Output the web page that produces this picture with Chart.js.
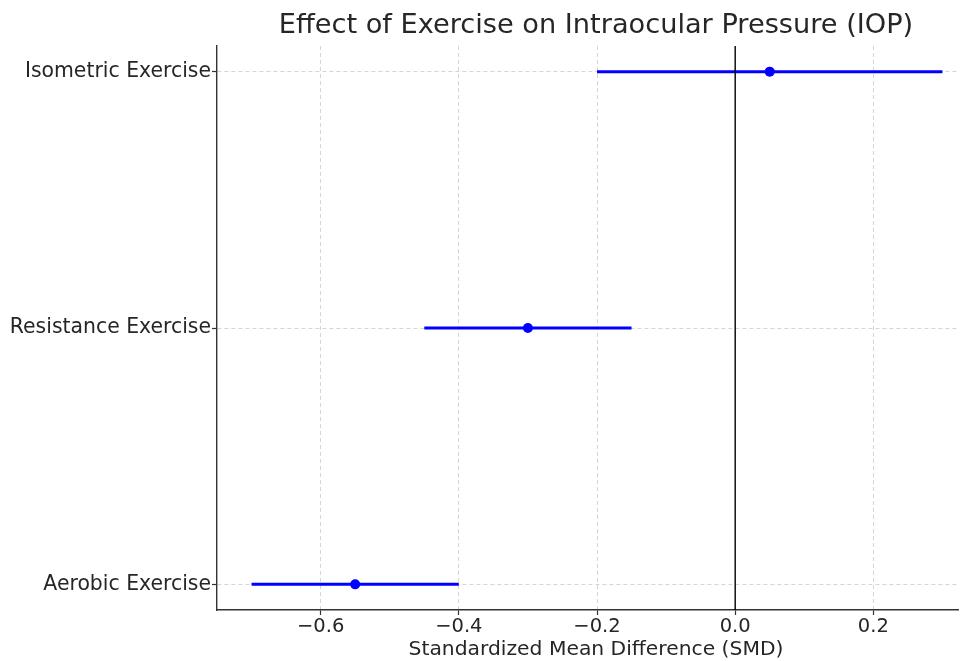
<!DOCTYPE html>
<html>
<head>
<meta charset="utf-8">
<script src="https://cdn.jsdelivr.net/npm/chart.js@4"></script>
<style>
  html, body { margin: 0; padding: 0; background: #ffffff; }
  #wrap { width: 963px; height: 661px; }
</style>
</head>
<body>
<div id="wrap"><canvas id="c" width="963" height="661"></canvas></div>
<script>
// ---- data ----
const categories = ["Aerobic Exercise", "Resistance Exercise", "Isometric Exercise"];
const smd = [-0.55, -0.30, 0.05];
const ciLow = [-0.70, -0.45, -0.20];
const ciHigh = [-0.40, -0.15, 0.30];
const xTicks = [-0.6, -0.4, -0.2, 0.0, 0.2];
const yTicks = [0, 1, 2];
const titleText = "Effect of Exercise on Intraocular Pressure (IOP)";
const xTitle = "Standardized Mean Difference (SMD)";

const FONT = "'DejaVu Sans', sans-serif";
const BLUE = "#0000ff";
const TEXT = "#262626";

const datasets = [];
categories.forEach((c, i) => {
  datasets.push({
    type: 'line',
    label: c + ' CI',
    data: [{x: ciLow[i], y: i}, {x: ciHigh[i], y: i}],
    borderColor: BLUE,
    borderWidth: 3,
    pointRadius: 0,
    fill: false,
    order: 2
  });
});
datasets.push({
  type: 'scatter',
  label: 'SMD',
  data: smd.map((v, i) => ({x: v, y: i})),
  backgroundColor: BLUE,
  borderColor: BLUE,
  pointRadius: 5,
  borderWidth: 0,
  order: 1
});

const extras = {
  id: 'extras',
  afterDatasetsDraw(chart) {
    const {ctx, chartArea, scales} = chart;
    const px = scales.x.getPixelForValue(0);
    ctx.save();
    ctx.strokeStyle = '#000000';
    ctx.lineWidth = 1.4;
    ctx.beginPath();
    ctx.moveTo(px, chartArea.top);
    ctx.lineTo(px, chartArea.bottom);
    ctx.stroke();
    ctx.restore();
  },
  afterDraw(chart) {
    const {ctx} = chart;
    ctx.save();
    ctx.fillStyle = TEXT;
    ctx.textAlign = 'center';
    ctx.textBaseline = 'middle';
    ctx.font = "27.2px " + FONT;
    ctx.fillText(titleText, 596, 26);
    ctx.font = "20.3px " + FONT;
    ctx.fillText(xTitle, 596, 650);
    ctx.restore();
  }
};

new Chart(document.getElementById('c'), {
  data: { datasets },
  options: {
    responsive: false,
    animation: false,
    events: [],
    layout: { padding: { top: 46, right: 1, left: 0, bottom: 0 } },
    plugins: { legend: { display: false }, tooltip: { enabled: false }, title: { display: false } },
    scales: {
      x: {
        type: 'linear',
        min: -0.75,
        max: 0.3225,
        afterBuildTicks: (axis) => { axis.ticks = xTicks.map(v => ({value: v})); },
        afterFit: (axis) => { axis.height = 51; },
        ticks: {
          callback: (v) => (v < 0 ? '\u2212' : '') + Math.abs(v).toFixed(1),
          font: { family: FONT, size: 19.5 },
          color: TEXT,
          padding: 0,
          maxRotation: 0,
          autoSkip: false
        },
        grid: {
          color: '#d0d0d0',
          lineWidth: 0.9,
          drawTicks: true,
          tickLength: 5,
          tickColor: '#333333',
          tickWidth: 1.2
        },
        border: { display: true, color: '#333333', width: 1.4, dash: [4, 3] }
      },
      y: {
        type: 'linear',
        min: -0.1,
        max: 2.1,
        afterBuildTicks: (axis) => { axis.ticks = yTicks.map(v => ({value: v})); },
        afterFit: (axis) => { axis.width = 217; },
        ticks: {
          callback: (v) => categories[v] !== undefined ? categories[v] : '',
          font: { family: FONT, size: 20.4 },
          color: TEXT,
          padding: 1,
          autoSkip: false
        },
        grid: {
          color: '#d0d0d0',
          lineWidth: 0.9,
          drawTicks: true,
          tickLength: 5,
          tickColor: '#333333',
          tickWidth: 1.2
        },
        border: { display: true, color: '#333333', width: 1.4, dash: [4, 3] }
      }
    }
  },
  plugins: [extras]
});
</script>
</body>
</html>
